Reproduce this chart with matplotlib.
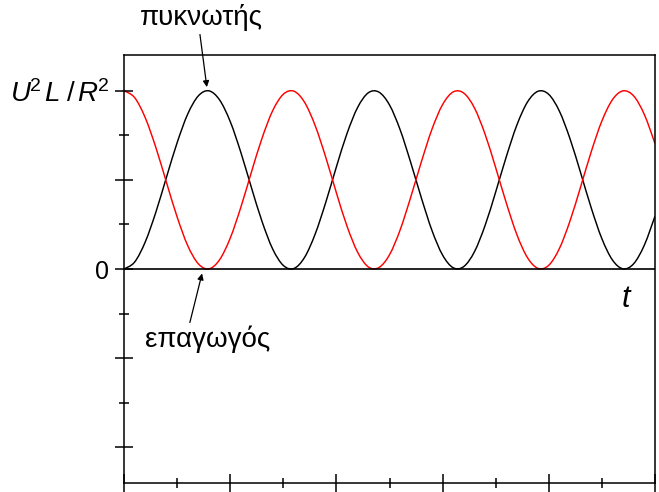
import matplotlib
matplotlib.use("Agg")
import matplotlib.pyplot as plt
from matplotlib.path import Path
from matplotlib.patches import PathPatch
from matplotlib.ticker import FixedLocator, NullFormatter

plt.rcParams.update(
    {
        "font.family": ["Liberation Sans", "DejaVu Sans"],
        "mathtext.fontset": "custom",
        "mathtext.rm": "Liberation Sans",
        "mathtext.it": "Liberation Sans:italic",
    }
)

# sample times (arbitrary units) and stored energies, normalised to U^2 L / R^2
t_vals = [
    0.0, 0.2, 0.4, 0.6, 0.8, 1.0, 1.2, 1.4, 1.6, 1.8,
    2.0, 2.2, 2.4, 2.6, 2.8, 3.0, 3.2, 3.4, 3.6, 3.8,
    4.0, 4.2, 4.4, 4.6, 4.8, 5.0, 5.2, 5.4, 5.6, 5.8,
    6.0, 6.2, 6.4, 6.6, 6.8, 7.0, 7.2, 7.4, 7.6, 7.8,
    8.0, 8.2, 8.4, 8.6, 8.8, 9.0, 9.2, 9.4, 9.6, 9.8,
    10.0,
]
capacitor = [
    0.000, 0.039, 0.152, 0.319, 0.515, 0.708, 0.869, 0.971, 0.999, 0.948,
    0.827, 0.654, 0.456, 0.266, 0.112, 0.020, 0.003, 0.065, 0.196, 0.374,
    0.573, 0.760, 0.906, 0.988, 0.992, 0.920, 0.781, 0.597, 0.399, 0.216,
    0.078, 0.007, 0.014, 0.097, 0.244, 0.432, 0.630, 0.808, 0.937, 0.997,
    0.979, 0.885, 0.730, 0.539, 0.342, 0.170, 0.050, 0.001, 0.030, 0.134,
    0.296,
]
inductor = [
    1.000, 0.961, 0.848, 0.681, 0.485, 0.292, 0.131, 0.029, 0.001, 0.052,
    0.173, 0.346, 0.544, 0.734, 0.888, 0.980, 0.997, 0.935, 0.804, 0.626,
    0.427, 0.240, 0.094, 0.012, 0.008, 0.080, 0.219, 0.403, 0.601, 0.784,
    0.922, 0.993, 0.986, 0.903, 0.756, 0.568, 0.370, 0.192, 0.063, 0.003,
    0.021, 0.115, 0.270, 0.461, 0.658, 0.830, 0.950, 0.999, 0.970, 0.866,
    0.704,
]

y_major = [-1.0, -0.5, 0.0, 0.5, 1.0]
y_major_labels = ["", "", "0", "", r"$U^{\!2}\,L\;/\,R^{\!2}$"]
y_minor = [-0.75, -0.25, 0.25, 0.75]
x_major = [0, 2, 4, 6, 8, 10]
x_minor = [1, 3, 5, 7, 9]


def smooth_path(xs, ys):
    # Catmull-Rom through the samples, written as cubic Bezier segments
    n = len(xs)
    verts = [(xs[0], ys[0])]
    codes = [Path.MOVETO]
    for i in range(n - 1):
        a, b = max(i - 1, 0), min(i + 2, n - 1)
        c1 = (xs[i] + (xs[i + 1] - xs[a]) / 6, ys[i] + (ys[i + 1] - ys[a]) / 6)
        c2 = (xs[i + 1] - (xs[b] - xs[i]) / 6, ys[i + 1] - (ys[b] - ys[i]) / 6)
        verts += [c1, c2, (xs[i + 1], ys[i + 1])]
        codes += [Path.CURVE4] * 3
    return Path(verts, codes)


fig = plt.figure(figsize=(6.59, 4.92), dpi=100)
ax = fig.add_axes([0.1882, 0.0183, 0.8057, 0.8699])

for ys, col in [(capacitor, "black"), (inductor, "#ff0000")]:
    ax.add_patch(PathPatch(smooth_path(t_vals, ys), fill=False, edgecolor=col, lw=1.05))
ax.axhline(0, color="black", lw=1.2)

ax.set_xlim(0, 10)
ax.set_ylim(-1.2, 1.2)

ax.yaxis.set_major_locator(FixedLocator(y_major))
ax.set_yticklabels(y_major_labels)
ax.yaxis.set_minor_locator(FixedLocator(y_minor))
ax.xaxis.set_major_locator(FixedLocator(x_major))
ax.xaxis.set_major_formatter(NullFormatter())
ax.xaxis.set_minor_locator(FixedLocator(x_minor))

ax.tick_params(axis="both", which="major", direction="inout", length=13, width=1.1,
               labelsize=18, pad=4)
ax.tick_params(axis="both", which="minor", direction="inout", length=6.5, width=1.1)
for lbl in ax.get_yticklabels():
    if lbl.get_text() == y_major_labels[-1]:
        lbl.set_fontsize(20)

for s in ax.spines.values():
    s.set_linewidth(1.1)
    s.set_color("black")

arrow = dict(arrowstyle="-|>", color="black", lw=0.9, mutation_scale=9,
             shrinkA=0, shrinkB=0)
ax.text(1.46, 1.371, "πυκνωτής", fontsize=20, ha="center", va="baseline", clip_on=False)
ax.annotate("", xy=(1.56, 1.02), xytext=(1.43, 1.315), arrowprops=arrow,
            annotation_clip=False)
ax.text(1.58, -0.438, "επαγωγός", fontsize=20, ha="center", va="baseline")
ax.annotate("", xy=(1.47, -0.025), xytext=(1.24, -0.30), arrowprops=arrow)

ax.text(9.45, -0.17, "t", fontsize=22, style="italic", ha="center", va="center")

fig.savefig("out.png", dpi=100)
